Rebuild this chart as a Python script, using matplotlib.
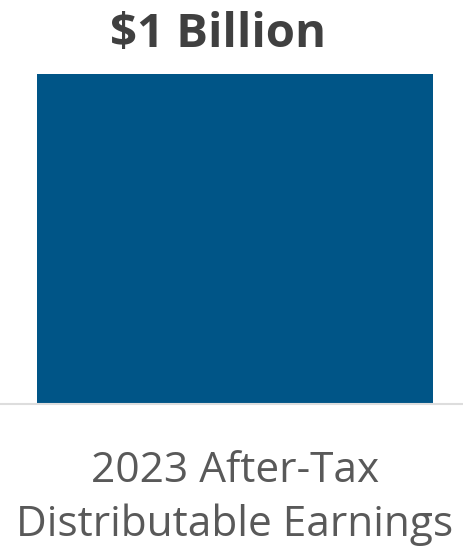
import matplotlib
matplotlib.use("Agg")
import matplotlib.pyplot as plt

categories = ["2023 After-Tax\nDistributable Earnings"]
values = [1.0]  # billions of dollars
value_labels = ["$1 Billion"]

W, H = 464, 552
fig = plt.figure(figsize=(W / 100, H / 100), dpi=100)
fig.patch.set_facecolor("white")

# axes area spans from the bar top to the baseline
ax = fig.add_axes([0, 1 - 404 / H, 1, (404 - 74) / H])
ax.bar(range(len(categories)), values, width=396 / W, color="#005587", zorder=2)
ax.set_xlim(-(235 / W), 1 - 235 / W)
ax.set_ylim(0, max(values))

for side in ("top", "left", "right"):
    ax.spines[side].set_visible(False)
ax.spines["bottom"].set_color("#dddddd")
ax.spines["bottom"].set_linewidth(1.5)
ax.set_yticks([])
ax.set_xticks(range(len(categories)))
ax.set_xticklabels(categories, fontfamily="Open Sans", fontsize=30.5, color="#595959",
                   linespacing=1.36)
ax.tick_params(axis="x", length=0, pad=33)

fig.text(218.5 / W, 1 - 47 / H, value_labels[0], ha="center", va="baseline",
         fontfamily="Open Sans", fontweight="bold", fontsize=34, color="#404040")

fig.savefig("out.png", dpi=100, facecolor="white")
